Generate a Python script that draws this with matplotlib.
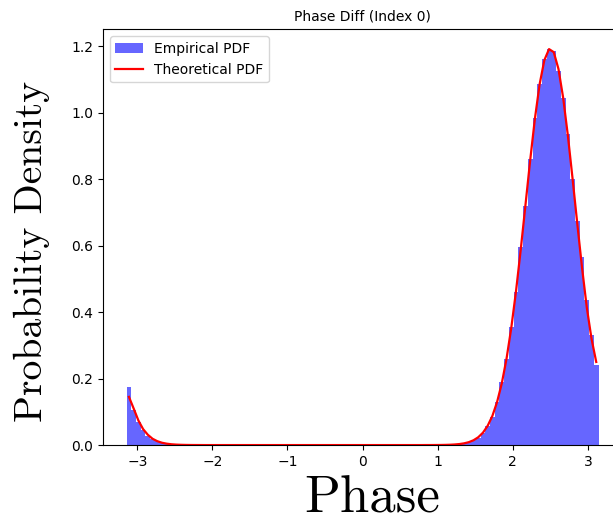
import numpy as np
import matplotlib
matplotlib.use("Agg")
import matplotlib.pyplot as plt

title = "Phase Diff (Index 0)"
x_label = "Phase"
y_label = "Probability Density"
legend_labels = ["Empirical PDF", "Theoretical PDF"]
n_bins = 100

# empirical histogram heights (100 bins over [-pi, pi])
empirical = [
    0.175, 0.105, 0.068, 0.044, 0.028, 0.018, 0.011, 0.0065, 0.004, 0.0022,
    0.0015, 0.0007, 0.0004, 0.0003, 0.0001, 0.0001, 0.0, 0.0, 0.0, 0.0,
    0.0, 0.0, 0.0, 0.0, 0.0, 0.0, 0.0, 0.0, 0.0, 0.0,
    0.0, 0.0, 0.0, 0.0, 0.0, 0.0, 0.0, 0.0, 0.0, 0.0,
    0.0, 0.0, 0.0, 0.0, 0.0, 0.0, 0.0, 0.0, 0.0, 0.0,
    0.0, 0.0, 0.0, 0.0, 0.0, 0.0, 0.0, 0.0, 0.0, 0.0,
    0.0, 0.0, 0.0, 0.0001, 0.0002, 0.0001, 0.0004, 0.0006, 0.0012, 0.0017,
    0.0031, 0.0050, 0.0085, 0.0142, 0.0225, 0.0360, 0.0560, 0.0850, 0.1300, 0.1900,
    0.2600, 0.3560, 0.4600, 0.5950, 0.7200, 0.8600, 0.9850, 1.0850, 1.1600, 1.1900,
    1.1850, 1.1250, 1.0450, 0.9350, 0.8000, 0.6750, 0.5650, 0.4350, 0.3300, 0.2400,
]

# theoretical pdf evaluated at bin centres
theoretical = [
    0.145, 0.110, 0.074, 0.048, 0.031, 0.019, 0.0117, 0.0070, 0.0042, 0.0024,
    0.0014, 0.0008, 0.00045, 0.00025, 0.00014, 0.0001, 0.0, 0.0, 0.0, 0.0,
    0.0, 0.0, 0.0, 0.0, 0.0, 0.0, 0.0, 0.0, 0.0, 0.0,
    0.0, 0.0, 0.0, 0.0, 0.0, 0.0, 0.0, 0.0, 0.0, 0.0,
    0.0, 0.0, 0.0, 0.0, 0.0, 0.0, 0.0, 0.0, 0.0, 0.0,
    0.0, 0.0, 0.0, 0.0, 0.0, 0.0, 0.0, 0.0, 0.0, 0.0,
    0.0, 0.0, 0.0, 0.0001, 0.0001, 0.00018, 0.00032, 0.00057, 0.00101, 0.00177,
    0.00305, 0.00521, 0.00875, 0.01447, 0.0235, 0.0373, 0.0580, 0.0878, 0.1298, 0.1862,
    0.2602, 0.3524, 0.4623, 0.5873, 0.7212, 0.8559, 0.9810, 1.0849, 1.1575, 1.1912,
    1.1820, 1.1313, 1.0442, 0.9300, 0.7997, 0.6640, 0.5328, 0.4139, 0.3200, 0.2500,
]

edges = np.linspace(-np.pi, np.pi, n_bins + 1)
centers = 0.5 * (edges[:-1] + edges[1:])

fig = plt.figure(figsize=(6.13, 5.23), dpi=100)
ax = fig.add_axes([0.168, 0.149, 0.847, 0.795])

ax.hist(centers, bins=edges, weights=empirical, color="blue", alpha=0.6,
        label=legend_labels[0])
ax.plot(centers, theoretical, color="red", linewidth=1.6, label=legend_labels[1])

ax.set_title(title, fontsize=10)
ax.set_xlabel(x_label, fontfamily="cmr10", fontsize=38, x=0.519, labelpad=5)
ax.set_ylabel(y_label, fontfamily="cmr10", fontsize=28.5, y=0.466, labelpad=15)
ax.set_yticks([0.0, 0.2, 0.4, 0.6, 0.8, 1.0, 1.2])
ax.legend(loc="upper left", fontsize=10)

fig.savefig("out.png", dpi=100)
